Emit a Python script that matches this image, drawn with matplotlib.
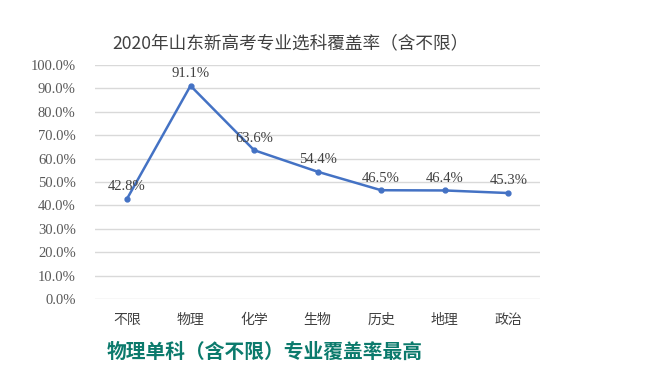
import matplotlib as mpl
import matplotlib.pyplot as plt

mpl.rcParams['font.family'] = ['Noto Sans CJK SC', 'DejaVu Sans']

categories = ['不限', '物理', '化学', '生物', '历史', '地理', '政治']
coverage = [42.8, 91.1, 63.6, 54.4, 46.5, 46.4, 45.3]
y_ticks = [0, 10, 20, 30, 40, 50, 60, 70, 80, 90, 100]

fig = plt.figure(figsize=(6.61, 3.73), dpi=100)
ax = fig.add_axes([0.144, 0.198, 0.673, 0.628])

x = range(len(categories))
ax.plot(x, coverage, color='#4472C4', linewidth=1.8, marker='o', markersize=3.5)
for xi, v in zip(x, coverage):
    ax.annotate('%.1f%%' % v, (xi, v), xytext=(0, 4), textcoords='offset points',
                ha='center', va='bottom', fontsize=10.5, color='#404040',
                family='Liberation Serif')

ax.set_xlim(-0.5, len(categories) - 0.5)
ax.set_ylim(0, 100)
ax.set_yticks(y_ticks)
ax.set_yticklabels(['%.1f%%' % t for t in y_ticks], family='Liberation Serif',
                   fontsize=10.5, color='#595959')
ax.set_xticks(list(x))
ax.set_xticklabels(categories, fontsize=10, color='#404040')
ax.tick_params(length=0)
ax.tick_params(axis='x', pad=10)
ax.tick_params(axis='y', pad=14)
ax.grid(axis='y', color='#d9d9d9', linewidth=1)
ax.set_axisbelow(True)
for s in ax.spines.values():
    s.set_visible(False)

fig.text(0.44, 0.885, '2020年山东新高考专业选科覆盖率（含不限）', ha='center', va='center',
         fontsize=12.7, color='#404040')
fig.text(0.162, 0.055, '物理单科（含不限）专业覆盖率最高', ha='left', va='center',
         fontsize=14.2, color='#0b7a6c', fontweight='bold')

fig.savefig('out.png', dpi=100)
